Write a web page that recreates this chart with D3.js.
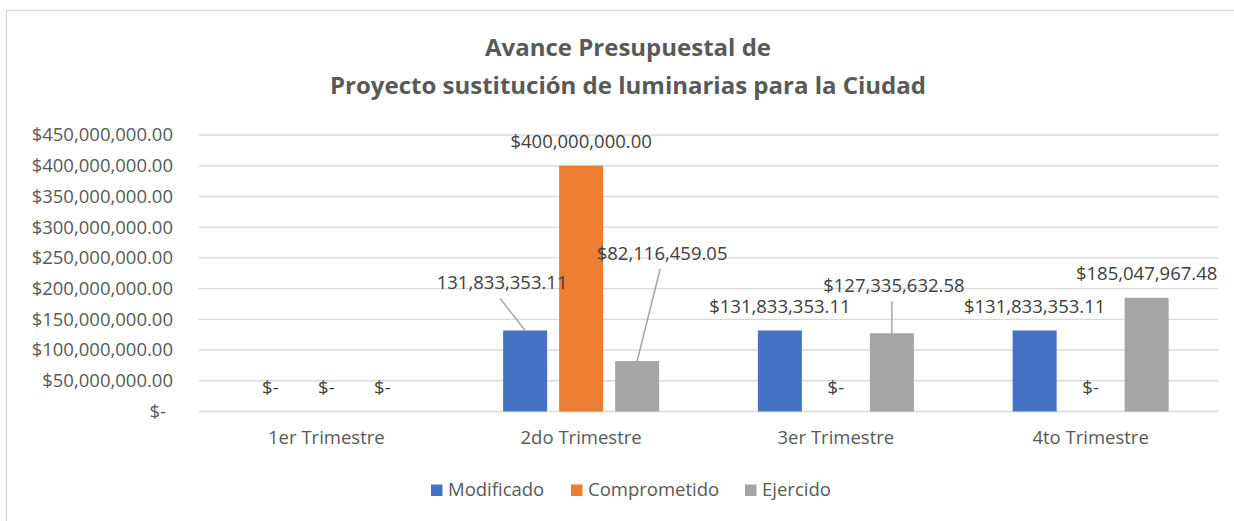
<!DOCTYPE html>
<html><head><meta charset="utf-8">
<script src="https://cdn.jsdelivr.net/npm/d3@7"></script>
<style>body{margin:0;background:#fff}svg{display:block}text{font-family:"Open Sans",sans-serif}</style>
</head><body><svg id="c" width="1234" height="521"></svg>
<script>
const categories = ["1er Trimestre","2do Trimestre","3er Trimestre","4to Trimestre"];
const seriesNames = ["Modificado","Comprometido","Ejercido"];
const modificado = [0,131833353.11,131833353.11,131833353.11];
const comprometido = [0,400000000,0,0];
const ejercido = [0,82116459.05,127335632.58,185047967.48];
const yTicks = [0,50e6,100e6,150e6,200e6,250e6,300e6,350e6,400e6,450e6];
const titleLines = ["Avance Presupuestal de","Proyecto sustitución de luminarias para la Ciudad"];
const colors = ["#4472C4","#ED7D31","#A5A5A5"];
// manually moved labels: [category index, series index, dx, dy, noDollar]
const movedLabels = [[1,0,-23,-24,true],[1,2,25,-84,false],[2,2,2,-24,false]];

const series = [modificado, comprometido, ejercido];
const svg = d3.select("#c");
const W = 1234, H = 521;
const m = {l:199, r:1218, t:135, b:411.5};
const FS = "18.5px";

svg.append("rect").attr("x",6.5).attr("y",10.5).attr("width",W).attr("height",H)
  .attr("fill","#fff").attr("stroke","#d9d9d9").attr("stroke-width",1.3);

const x = d3.scaleBand().domain(categories).range([m.l,m.r]).padding(0);
const xi = d3.scaleBand().domain(seriesNames).range([-84,84]).paddingInner(12/56).paddingOuter(6/56);
const y = d3.scaleLinear().domain([0,450e6]).range([m.b,m.t]);

// gridlines
svg.append("g").selectAll("line").data(yTicks).join("line")
  .attr("x1",m.l).attr("x2",m.r).attr("y1",d=>y(d)).attr("y2",d=>y(d))
  .attr("stroke","#d9d9d9").attr("stroke-width",1.4);

// y axis labels
const fmt = d3.format(",.2f");
const yAxis = d3.axisLeft(y).tickValues(yTicks).tickSize(0).tickPadding(0)
  .tickFormat(d=> d===0 ? "$-" : "$"+fmt(d));
const ga = svg.append("g").attr("transform",`translate(173,0)`).call(yAxis);
ga.select(".domain").remove();
ga.selectAll("text").attr("font-size",FS).attr("fill","#595959")
  .attr("font-family","'Open Sans',sans-serif")
  .attr("dx",d=>d===0?-7:0);

// bars
const cells = [];
categories.forEach((c,ci)=>series.forEach((s,si)=>cells.push({c,ci,si,v:s[ci]})));
svg.append("g").selectAll("rect").data(cells).join("rect")
  .attr("x",d=>x(d.c)+x.bandwidth()/2+xi(seriesNames[d.si]))
  .attr("width",xi.bandwidth())
  .attr("y",d=>y(d.v)).attr("height",d=>y(0)-y(d.v))
  .attr("fill",d=>colors[d.si]);

// data labels
const lg = svg.append("g");
cells.forEach(d=>{
  const bx = x(d.c)+x.bandwidth()/2+xi(seriesNames[d.si])+xi.bandwidth()/2;
  const by = y(d.v);
  let cx = bx, cy = by-24, noDollar=false, moved=false;
  movedLabels.forEach(ml=>{ if(ml[0]===d.ci && ml[1]===d.si){cx+=ml[2]; cy+=ml[3]; noDollar=ml[4]; moved=true;} });
  const txt = d.v===0 ? "$-" : (noDollar?"":"$")+fmt(d.v);
  if(moved){
    lg.append("line").attr("x1",cx-2).attr("y1",cy+16).attr("x2",bx).attr("y2",by)
      .attr("stroke","#a6a6a6").attr("stroke-width",1.5);
  }
  lg.append("text").attr("x",cx).attr("y",cy).attr("dy","0.35em").attr("text-anchor","middle")
    .attr("font-size",FS).attr("fill","#404040").text(txt);
});

// x axis labels
svg.append("g").selectAll("text").data(categories).join("text")
  .attr("x",d=>x(d)+x.bandwidth()/2).attr("y",438).attr("dy","0.35em")
  .attr("text-anchor","middle").attr("font-size",FS).attr("fill","#595959").text(d=>d);

// title
svg.append("g").selectAll("text").data(titleLines).join("text")
  .attr("x",628).attr("y",(d,i)=>48+i*38).attr("dy","0.35em").attr("text-anchor","middle")
  .attr("font-size","24px").attr("font-weight","bold").attr("fill","#595959").text(d=>d);

// legend
const legX = [431,571,745];
const leg = svg.append("g");
seriesNames.forEach((n,i)=>{
  leg.append("rect").attr("x",legX[i]).attr("y",484.5).attr("width",11.5).attr("height",11.5).attr("fill",colors[i]);
  leg.append("text").attr("x",legX[i]+17).attr("y",490).attr("dy","0.35em")
    .attr("font-size",FS).attr("fill","#595959").text(n);
});
</script></body></html>
